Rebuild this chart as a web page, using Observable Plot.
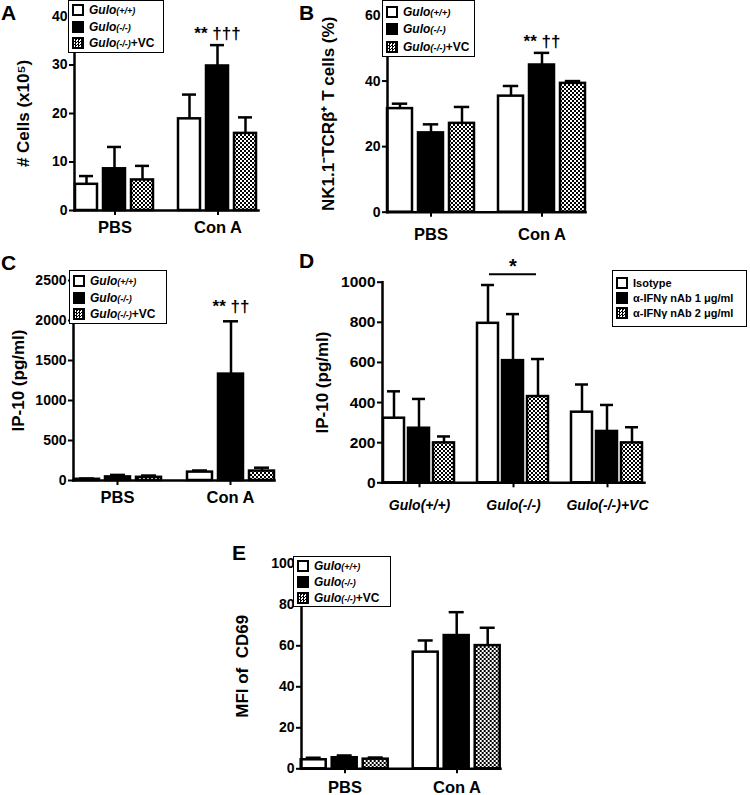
<!DOCTYPE html>
<html>
<head>
<meta charset="utf-8">
<script src="https://cdn.jsdelivr.net/npm/d3@7"></script>
<script src="https://cdn.jsdelivr.net/npm/@observablehq/plot@0.6"></script>
<style>
  html, body { margin: 0; padding: 0; background: #fff; }
  #fig { position: relative; width: 750px; height: 795px; overflow: hidden; font-family: "Liberation Sans", Arial, sans-serif; font-weight: bold; color: #000; }
  .panel { position: absolute; }
  .panel svg { display: block; overflow: visible; background: transparent; }
  .letter { position: absolute; font-size: 21px; font-weight: bold; line-height: 1; }
  .legend { position: absolute; box-sizing: border-box; border: 1.5px solid #000; background: #fff; }
  .legend .row { position: absolute; left: 3px; display: flex; align-items: center; white-space: nowrap; }
  .legend .sw { box-sizing: border-box; width: 12px; height: 12px; border: 2px solid #000; margin-right: 5px; flex: none; }
  .legend .chk { background: repeating-conic-gradient(#000 0 25%, #fff 0 50%) 0 0 / 3px 3px; }
</style>
</head>
<body>
<svg width="0" height="0" style="position:absolute">
  <defs>
    <pattern id="chk" width="4" height="4" patternUnits="userSpaceOnUse">
      <rect width="4" height="4" fill="#fff"/>
      <rect width="2" height="2" fill="#000"/>
      <rect x="2" y="2" width="2" height="2" fill="#000"/>
    </pattern>
  </defs>
</svg>
<div id="fig"></div>
<script>
// ---------------- data ----------------
const stimGroups = ["PBS", "Con A"];
const genotypes = ["Gulo(+/+)", "Gulo(-/-)", "Gulo(-/-)+VC"];
const barFills = ["#fff", "#000", "url(#chk)"];

// Panel A: # cells (x10^5); order = PBS (3 genotypes), Con A (3 genotypes)
const aMean  = [5.4, 8.6, 6.3, 18.9, 29.8, 15.9];
const aUpper = [7.1, 13.1, 9.2, 23.9, 34.1, 19.2];
const aTicks = [0, 10, 20, 30, 40];
const aNotes = [["Con A", "Gulo(-/-)", "** †††"]];

// Panel B: NK1.1- TCRb+ T cells (%)
const bMean  = [31.6, 24.2, 27.1, 35.4, 44.9, 39.3];
const bUpper = [33.1, 26.8, 32.1, 38.5, 48.6, 40.0];
const bTicks = [0, 20, 40, 60];
const bNotes = [["Con A", "Gulo(-/-)", "** ††"]];

// Panel C: IP-10 (pg/ml)
const cMean  = [15, 45, 40, 105, 1330, 118];
const cUpper = [25, 70, 62, 125, 1990, 160];
const cTicks = [0, 500, 1000, 1500, 2000, 2500];
const cNotes = [["Con A", "Gulo(-/-)", "** ††"]];

// Panel D: IP-10 (pg/ml) by genotype and antibody treatment
const dGroups = ["Gulo(+/+)", "Gulo(-/-)", "Gulo(-/-)+VC"];
const dTreat  = ["Isotype", "α-IFNγ nAb 1 μg/ml", "α-IFNγ nAb 2 μg/ml"];
const dMean   = [322, 272, 199, 795, 609, 430, 352, 256, 199];
const dUpper  = [456, 418, 231, 986, 841, 617, 490, 388, 277];
const dTicks  = [0, 200, 400, 600, 800, 1000];
const dBracket = [{group: "Gulo(-/-)", from: "Isotype", to: "α-IFNγ nAb 2 μg/ml", mid: "α-IFNγ nAb 1 μg/ml", y: 1040, text: "*"}];

// Panel E: MFI of CD69
const eMean  = [4.4, 5.4, 4.7, 56.9, 65.0, 60.1];
const eUpper = [5.4, 6.5, 5.5, 62.6, 76.4, 68.8];
const eTicks = [0, 20, 40, 60, 80, 100];

// ---------------- drawing ----------------
const fig = document.getElementById("fig");
const FONT = "'Liberation Sans', Arial, sans-serif";

function drawPanel(o) {
  const rows = [];
  o.groups.forEach((g, gi) => o.series.forEach((s, si) => {
    const k = gi * o.series.length + si;
    rows.push({group: g, series: s, value: o.mean[k], upper: o.upper[k]});
  }));
  const notes = (o.notes || []).map(([group, series, text]) => {
    const r = rows.find(d => d.group === group && d.series === series);
    return {group, series, text, y: r.upper};
  });
  const marks = [
    Plot.ruleX(rows, {fx: "group", x: "series", y1: "value", y2: "upper", stroke: "#000", strokeWidth: 2.5}),
    Plot.tickY(rows, {fx: "group", x: "series", y: "upper", stroke: "#000", strokeWidth: 2.5, insetLeft: o.cap, insetRight: o.cap}),
    Plot.barY(rows, {fx: "group", x: "series", y: "value", fill: "series", stroke: "#000", strokeWidth: 2.5}),
    Plot.frame({facet: "super", anchor: "left", stroke: "#000", strokeWidth: 2.5}),
    Plot.frame({facet: "super", anchor: "bottom", stroke: "#000", strokeWidth: 2.5}),
    Plot.axisY(o.ticks, {anchor: "left", tickSize: 5, tickPadding: 2, strokeWidth: 2, fontSize: o.tickFont, fontWeight: "bold",
      tickFormat: d => String(d),
      label: o.ylabel, labelAnchor: "center", labelOffset: o.labelOffset, labelArrow: "none"}),
    Plot.axisFx({anchor: "bottom", tickSize: 5, tickPadding: o.fxPad, strokeWidth: 2, fontSize: o.xFont, fontWeight: "bold",
      fontStyle: o.xItalic ? "italic" : "normal", label: null})
  ];
  if (notes.length) marks.push(Plot.text(notes, {fx: "group", x: "series", y: "y", text: "text", dy: o.noteDy, lineAnchor: "bottom", fontSize: o.noteFont, fontWeight: "bold"}));
  if (o.bracket) {
    marks.push(Plot.ruleY(o.bracket, {fx: "group", x1: "from", x2: "to", y: "y", stroke: "#000", strokeWidth: 2, insetLeft: 12, insetRight: 12}));
    marks.push(Plot.text(o.bracket, {fx: "group", x: "mid", y: "y", text: "text", dy: -1, lineAnchor: "bottom", fontSize: 20, fontWeight: "bold"}));
  }
  const svg = Plot.plot({
    width: o.W, height: o.H,
    marginLeft: o.ml, marginTop: o.mt, marginRight: o.mr, marginBottom: o.mb,
    facet: {marginTop: 0, marginRight: 0, marginBottom: 0, marginLeft: 0},
    style: {fontFamily: FONT, fontWeight: "bold", background: "transparent", overflow: "visible", color: "#000"},
    fx: {domain: o.groups, paddingInner: o.fxIn, paddingOuter: o.fxOut, label: null},
    x: {domain: o.series, paddingInner: o.xIn, paddingOuter: 0, axis: null},
    y: {domain: o.yDomain, axis: null},
    color: {domain: o.series, range: barFills},
    marks
  });
  d3.select(svg).selectAll('g[aria-label="y-axis label"] text').attr("font-size", o.labelFont);
  const div = document.createElement("div");
  div.className = "panel";
  Object.assign(div.style, {left: o.left + "px", top: o.top + "px", width: o.W + "px", height: o.H + "px"});
  div.appendChild(svg);
  fig.appendChild(div);
}

function addLetter(t, left, top) {
  const d = document.createElement("div");
  d.className = "letter";
  d.textContent = t;
  d.style.left = left + "px"; d.style.top = top + "px";
  fig.appendChild(d);
}

function genoHTML(name, small) {
  const m = name.match(/^(Gulo)(\([^)]*\))(.*)$/);
  return `<span style="font-style:italic">${m[1]}</span><span style="font-style:italic;font-size:${small}px">${m[2]}</span>` +
    (m[3] ? `<span>${m[3]}</span>` : "");
}

function addLegend(o) {
  const box = document.createElement("div");
  box.className = "legend";
  Object.assign(box.style, {left: o.left + "px", top: o.top + "px", width: o.width + "px", height: o.height + "px", fontSize: o.font + "px"});
  o.labels.forEach((lab, i) => {
    const row = document.createElement("div");
    row.className = "row";
    row.style.top = (o.pad + i * o.rowH) + "px";
    row.style.height = o.rowH + "px";
    const sw = document.createElement("span");
    sw.className = "sw" + (i === 2 ? " chk" : "");
    if (i !== 2) sw.style.background = barFills[i];
    row.appendChild(sw);
    const tx = document.createElement("span");
    tx.innerHTML = o.geno ? genoHTML(lab, o.small) : lab;
    row.appendChild(tx);
    box.appendChild(row);
  });
  fig.appendChild(box);
}

const common = {groups: stimGroups, series: genotypes, xIn: 0.2, tickFont: 14, labelFont: 17, xFont: 16.5, noteFont: 17};

drawPanel({...common, left: 0, top: 0, W: 290, H: 250, ml: 59, mt: 16, mr: 17, mb: 40,
  fxIn: 0.214, fxOut: 0.14, cap: 4, yDomain: [0, 40], ticks: aTicks, mean: aMean, upper: aUpper,
  ylabel: "# Cells (x10⁵)", labelOffset: 58, fxPad: 6, notes: aNotes, noteDy: -6});

drawPanel({...common, left: 290, top: 0, W: 330, H: 250, ml: 82, mt: 15, mr: 20, mb: 38.3,
  fxIn: 0.217, fxOut: 0.128, cap: 4.8, yDomain: [0, 60], ticks: bTicks, mean: bMean, upper: bUpper,
  ylabel: "NK1.1⁻TCRβ⁺ T cells (%)", labelOffset: 66, fxPad: 11, notes: bNotes, noteDy: -6});

drawPanel({...common, left: 0, top: 250, W: 300, H: 265, ml: 60, mt: 30, mr: 11.6, mb: 35,
  fxIn: 0.217, fxOut: 0.119, cap: 5, yDomain: [0, 2500], ticks: cTicks, mean: cMean, upper: cUpper,
  ylabel: "IP-10 (pg/ml)", labelOffset: 62, fxPad: 6, notes: cNotes, noteDy: -9});

drawPanel({...common, groups: dGroups, series: dTreat, xIn: 0.15, tickFont: 15.5, xFont: 14, xItalic: true,
  left: 300, top: 250, W: 450, H: 265, ml: 75, mt: 31.7, mr: 98.5, mb: 32.7,
  fxIn: 0.2166, fxOut: 0.0755, cap: 4, yDomain: [0, 1000], ticks: dTicks, mean: dMean, upper: dUpper,
  ylabel: "IP-10 (pg/ml)", labelOffset: 67, fxPad: 12, bracket: dBracket});

drawPanel({...common, left: 200, top: 530, W: 330, H: 265, ml: 89.3, mt: 33.3, mr: 18, mb: 26.7,
  fxIn: 0.226, fxOut: 0.0996, cap: 5, yDomain: [0, 100], ticks: eTicks, mean: eMean, upper: eUpper,
  ylabel: "MFI of  CD69", labelOffset: 66, fxPad: 7});

addLetter("A", 1, 2);
addLetter("B", 299, 2);
addLetter("C", 1, 252);
addLetter("D", 299, 250);
addLetter("E", 232, 542);

addLegend({left: 68, top: 0, width: 96, height: 53, font: 12, small: 9, rowH: 16.5, pad: 1, labels: genotypes, geno: true});
addLegend({left: 382, top: 0, width: 93, height: 57, font: 12, small: 9.5, rowH: 17.5, pad: 2, labels: genotypes, geno: true});
addLegend({left: 69, top: 270, width: 98, height: 54, font: 12, small: 9, rowH: 16.5, pad: 2, labels: genotypes, geno: true});
addLegend({left: 612, top: 270, width: 135, height: 57, font: 11, rowH: 15, pad: 4, labels: dTreat, geno: false});
addLegend({left: 293, top: 556, width: 98, height: 51, font: 12, small: 9, rowH: 16, pad: 1, labels: genotypes, geno: true});
</script>
</body>
</html>
